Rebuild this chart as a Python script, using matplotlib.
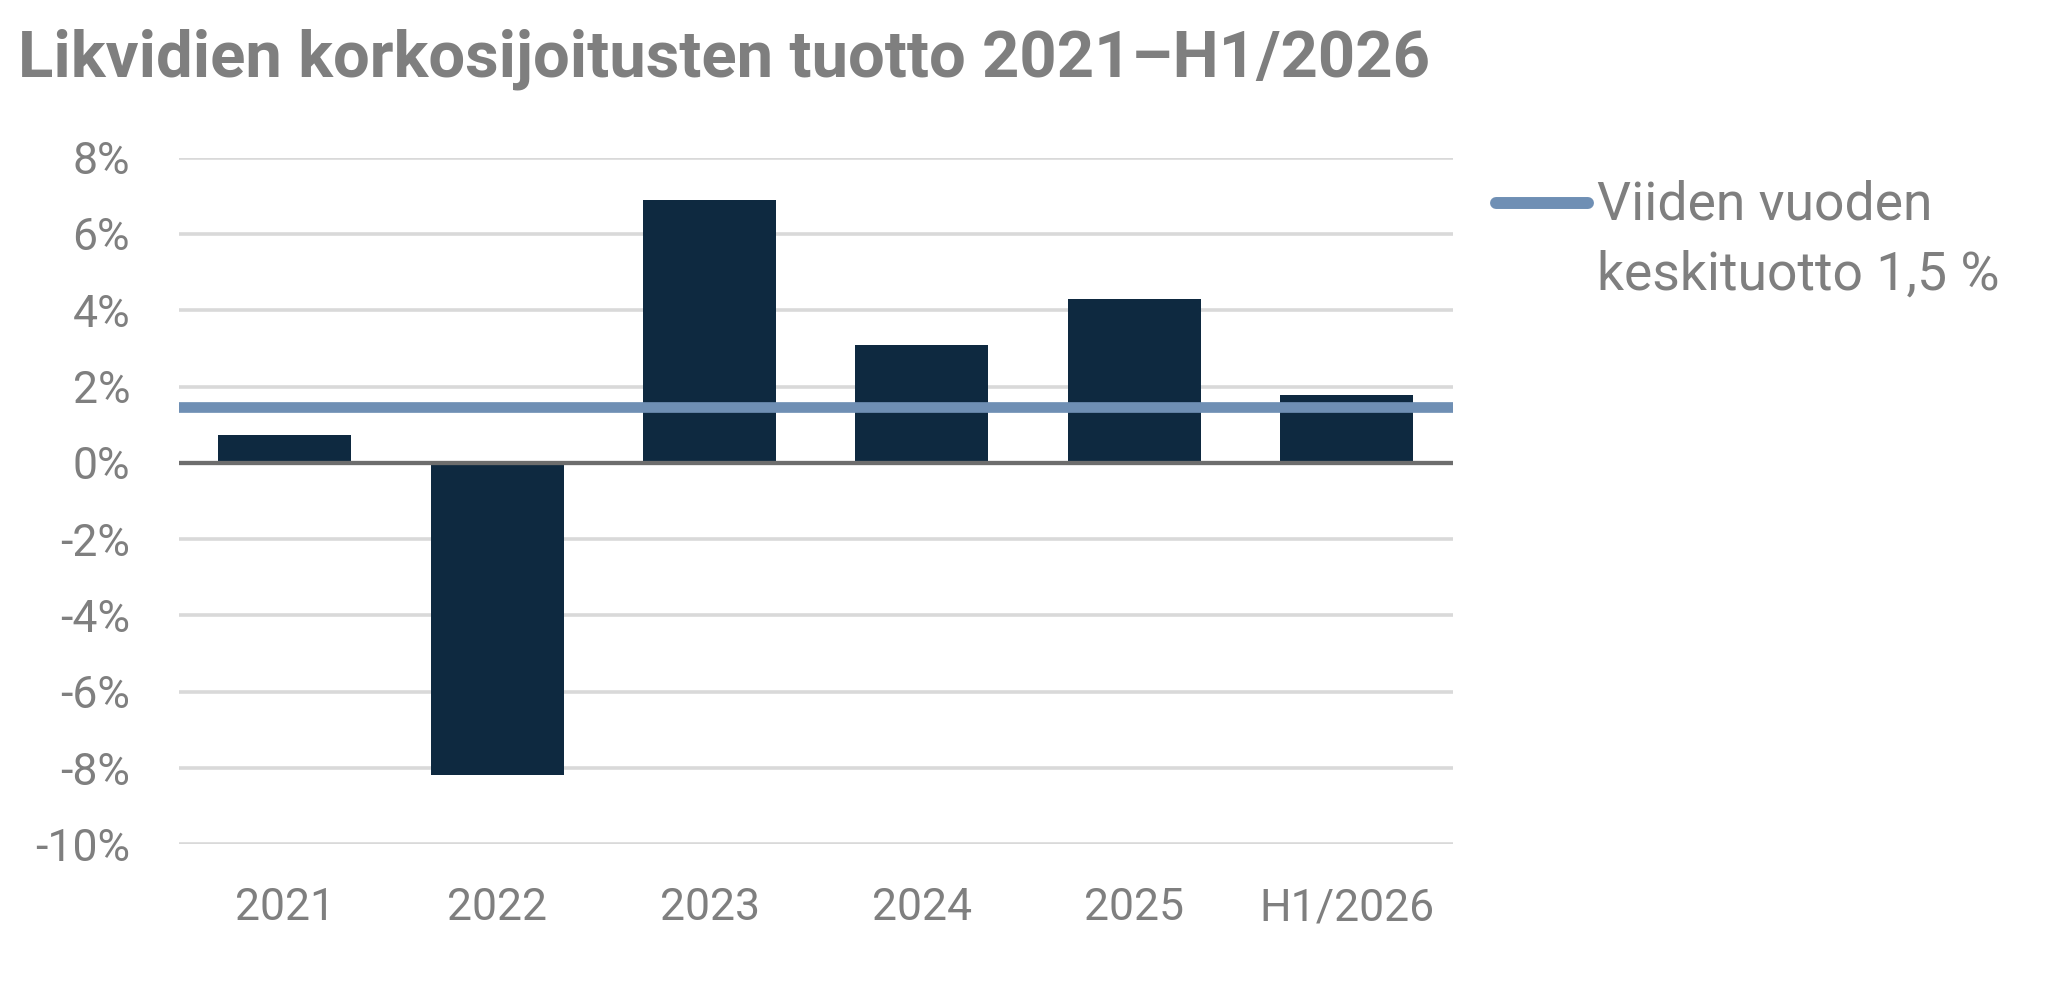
import matplotlib
matplotlib.use("Agg")
import matplotlib.pyplot as plt
from matplotlib.lines import Line2D

# ---- data ----
categories = ["2021", "2022", "2023", "2024", "2025", "H1/2026"]
returns = [0.72, -8.18, 6.88, 3.09, 4.29, 1.79]
avg_return = 1.46
yticks = [-10, -8, -6, -4, -2, 0, 2, 4, 6, 8]
title = "Likvidien korkosijoitusten tuotto 2021–H1/2026"
legend_lines = ["Viiden vuoden", "keskituotto 1,5 %"]

# ---- style ----
FONT = ["Roboto", "DejaVu Sans"]
plt.rcParams["font.family"] = FONT
TXT = "#7f7f7f"
BAR = "#0e2940"
AVG = "#6f8fb4"
GRID = "#d9d9d9"
ZERO = "#6d6d6d"

W, H = 2060, 988
fig = plt.figure(figsize=(W / 100, H / 100), dpi=100)
ax = fig.add_axes([178.7 / W, 1 - 844.3 / H, (1452.7 - 178.7) / W, (844.3 - 157.7) / H])

x = list(range(len(categories)))
ax.bar(x, returns, width=0.627, color=BAR, zorder=2)
ax.axhline(0, color=ZERO, lw=3.1, zorder=3)
ax.axhline(avg_return, color=AVG, lw=7.7, zorder=4)

ax.set_xlim(-0.5, len(categories) - 0.5)
ax.set_ylim(min(yticks), max(yticks))
ax.set_yticks(yticks)
ax.set_yticklabels([f"{v}%" for v in yticks])
ax.set_xticks(x)
ax.set_xticklabels(categories)
ax.yaxis.grid(True, color=GRID, lw=2.6, zorder=0)
ax.set_axisbelow(True)
for s in ax.spines.values():
    s.set_visible(False)
ax.tick_params(axis="both", length=0, labelcolor=TXT, labelsize=32)
ax.tick_params(axis="y", pad=35)
ax.tick_params(axis="x", pad=31)

fig.text(18 / W, 1 - 76 / H, title, fontsize=47, fontweight="bold", color=TXT,
         va="baseline", ha="left")

# legend (handle aligned with first text line)
fig.add_artist(Line2D([1496 / W, 1588 / W], [1 - 203 / H, 1 - 203 / H],
                      transform=fig.transFigure, color=AVG, lw=8.6,
                      solid_capstyle="round"))
fig.text(1597 / W, 1 - 219.3 / H, legend_lines[0], fontsize=38.5, color=TXT,
         va="baseline", ha="left")
fig.text(1597 / W, 1 - 290 / H, legend_lines[1], fontsize=38.5, color=TXT,
         va="baseline", ha="left")

fig.savefig("out.png", dpi=100, facecolor="white")
